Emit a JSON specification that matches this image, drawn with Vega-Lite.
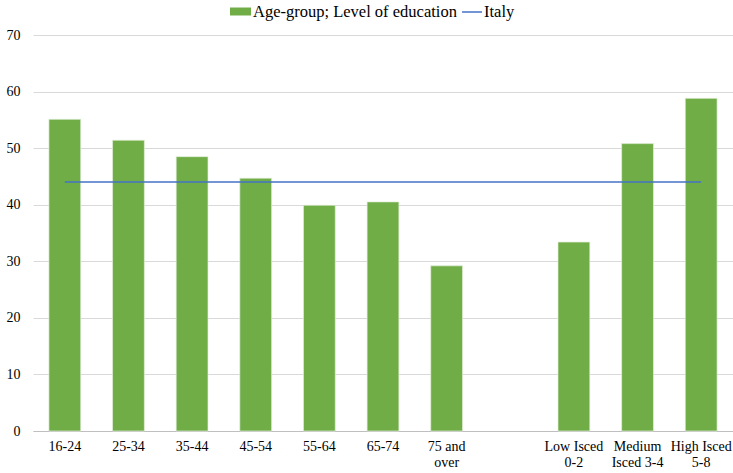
{
  "$schema": "https://vega.github.io/schema/vega-lite/v6.json",
  "autosize": "none",
  "width": 700,
  "height": 396,
  "padding": {"left": 33, "top": 35, "right": 0, "bottom": 42},
  "background": "white",
  "config": {
    "font": "Liberation Serif",
    "view": {"stroke": null},
    "axis": {"labelFont": "Liberation Serif", "labelFontSize": 14, "labelColor": "#000000", "ticks": false, "title": null},
    "legend": {"labelFont": "Liberation Serif", "labelFontSize": 16.5, "labelColor": "#000000", "labelLimit": 0, "padding": 0, "title": null}
  },
  "data": {
    "values": [
      {"category": "16-24", "value": 55.1, "italy": 44.0},
      {"category": "25-34", "value": 51.4, "italy": 44.0},
      {"category": "35-44", "value": 48.5, "italy": 44.0},
      {"category": "45-54", "value": 44.7, "italy": 44.0},
      {"category": "55-64", "value": 39.9, "italy": 44.0},
      {"category": "65-74", "value": 40.5, "italy": 44.0},
      {"category": "75 and|over", "value": 29.2, "italy": 44.0},
      {"category": " ", "value": null, "italy": 44.0},
      {"category": "Low Isced|0-2", "value": 33.4, "italy": 44.0},
      {"category": "Medium|Isced 3-4", "value": 50.8, "italy": 44.0},
      {"category": "High Isced|5-8", "value": 58.8, "italy": 44.0}
    ]
  },
  "encoding": {
    "x": {
      "field": "category",
      "type": "nominal",
      "sort": ["16-24", "25-34", "35-44", "45-54", "55-64", "65-74", "75 and|over", " ", "Low Isced|0-2", "Medium|Isced 3-4", "High Isced|5-8"],
      "scale": {"domain": ["16-24", "25-34", "35-44", "45-54", "55-64", "65-74", "75 and|over", " ", "Low Isced|0-2", "Medium|Isced 3-4", "High Isced|5-8"], "paddingInner": 0.5, "paddingOuter": 0.25},
      "axis": {"labelAngle": 0, "labelExpr": "split(datum.label, '|')", "domainColor": "#bfbfbf", "domainWidth": 1, "labelPadding": 8, "labelLineHeight": 16, "grid": false}
    }
  },
  "layer": [
    {
      "mark": {"type": "bar", "stroke": "#e2efda", "strokeWidth": 0.7},
      "encoding": {
        "y": {
          "field": "value",
          "type": "quantitative",
          "scale": {"domain": [0, 70]},
          "axis": {"values": [0, 10, 20, 30, 40, 50, 60, 70], "domain": false, "gridColor": "#d9d9d9", "gridWidth": 1, "labelPadding": 13}
        },
        "fill": {
          "datum": "Age-group; Level of education",
          "type": "nominal",
          "scale": {"domain": ["Age-group; Level of education"], "range": ["#70ad47"]},
          "legend": {
            "orient": "none",
            "legendX": 197,
            "legendY": -34,
            "symbolType": "M-1,-0.38H1V0.38H-1Z",
            "symbolSize": 441,
            "symbolStrokeWidth": 0,
            "labelOffset": 2
          }
        }
      }
    },
    {
      "mark": {"type": "line", "strokeWidth": 1.5},
      "encoding": {
        "y": {"field": "italy", "type": "quantitative"},
        "stroke": {
          "datum": "Italy",
          "type": "nominal",
          "scale": {"domain": ["Italy"], "range": ["#4472c4"]},
          "legend": {
            "orient": "none",
            "legendX": 428,
            "legendY": -34,
            "symbolType": "stroke",
            "symbolSize": 400,
            "symbolStrokeWidth": 1.5,
            "labelOffset": 1
          }
        }
      }
    }
  ]
}
